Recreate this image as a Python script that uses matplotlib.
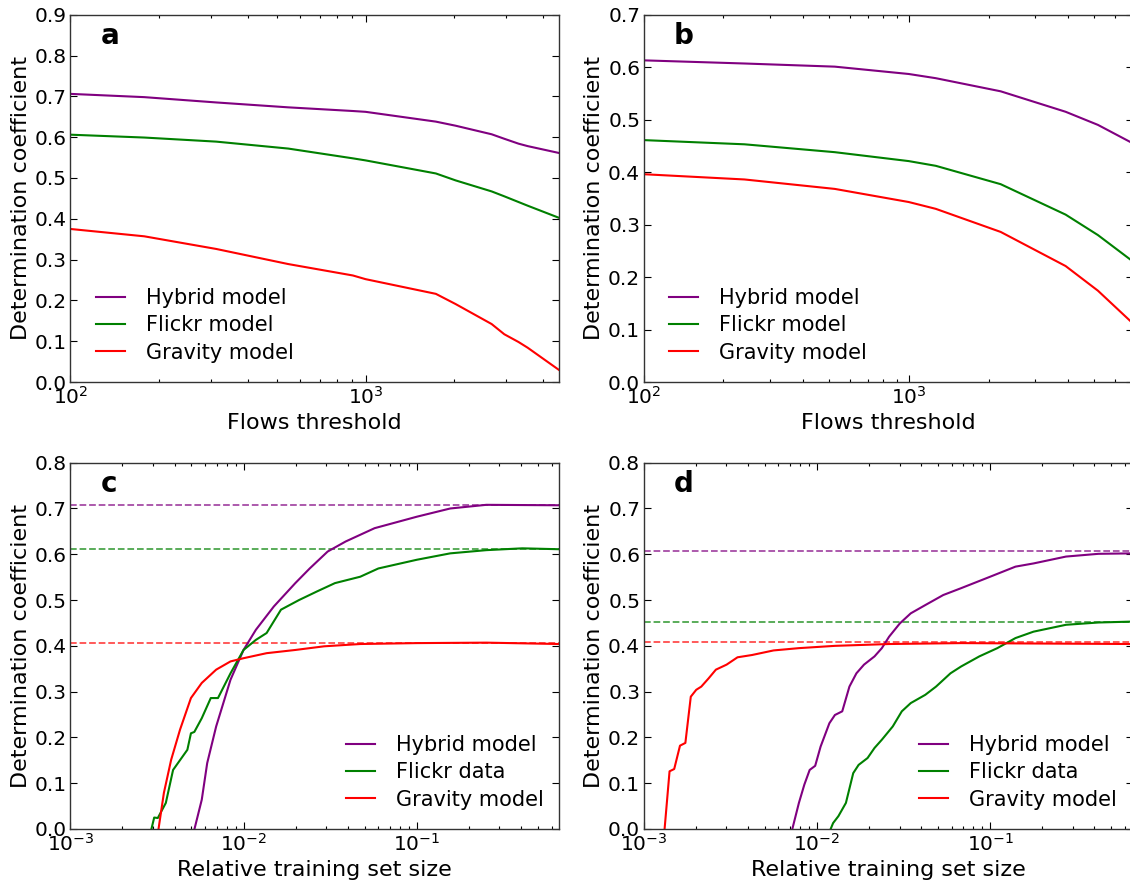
#!/usr/bin/env python3
"""Determination coefficient vs flows threshold / training set size (4 panels)."""
import numpy as np
import matplotlib
matplotlib.use('Agg')
import matplotlib.pyplot as plt
from matplotlib.ticker import FormatStrFormatter, MultipleLocator

# Panel a: flows threshold
a_x = [100, 178, 312, 547, 906, 1000, 1730, 2018, 2673, 2950, 3296, 3540, 4530]
a_hybrid = [0.706, 0.698, 0.685, 0.673, 0.664, 0.662, 0.638, 0.628, 0.607, 0.596, 0.584, 0.578, 0.561]
a_flickr = [0.606, 0.599, 0.589, 0.572, 0.548, 0.543, 0.511, 0.494, 0.467, 0.455, 0.441, 0.432, 0.402]
a_gravity = [0.375, 0.357, 0.326, 0.289, 0.261, 0.252, 0.216, 0.191, 0.142, 0.117, 0.098, 0.084, 0.029]

# Panel b: flows threshold
b_x = [100, 240, 526, 1000, 1265, 2223, 3908, 5175, 7000]
b_hybrid = [0.613, 0.607, 0.601, 0.587, 0.579, 0.554, 0.515, 0.490, 0.455]
b_flickr = [0.461, 0.453, 0.438, 0.421, 0.412, 0.377, 0.319, 0.280, 0.230]
b_gravity = [0.396, 0.386, 0.368, 0.343, 0.330, 0.286, 0.221, 0.174, 0.112]

# Panel c: relative training set size
c_ref = [0.707, 0.612, 0.407]  # hybrid, flickr, gravity (full-set values)
c_hyb_x = [0.00521, 0.00574, 0.00617, 0.00695, 0.00841, 0.0100, 0.01178, 0.01496, 0.0199,
           0.0241, 0.0306, 0.0389, 0.0571, 0.100, 0.156, 0.252, 0.665]
c_hyb_y = [0.0, 0.064, 0.144, 0.224, 0.326, 0.391, 0.435, 0.486, 0.537,
           0.569, 0.606, 0.628, 0.657, 0.682, 0.700, 0.708, 0.707]
c_fli_x = [0.00294, 0.00305, 0.0032, 0.00356, 0.00392, 0.00474, 0.00497, 0.00520, 0.00574,
           0.00647, 0.00712, 0.00841, 0.0100, 0.01178, 0.01359, 0.01645, 0.0209, 0.0266,
           0.0337, 0.0472, 0.060, 0.100, 0.156, 0.252, 0.407, 0.665]
c_fli_y = [0.0, 0.025, 0.024, 0.057, 0.129, 0.173, 0.209, 0.212, 0.242,
           0.286, 0.286, 0.340, 0.391, 0.413, 0.428, 0.479, 0.500, 0.519,
           0.537, 0.551, 0.569, 0.588, 0.602, 0.609, 0.613, 0.611]
c_gra_x = [0.00323, 0.00347, 0.00382, 0.0043, 0.00497, 0.00574, 0.00695, 0.00841, 0.0100,
           0.01359, 0.0199, 0.0292, 0.0472, 0.100, 0.252, 0.665]
c_gra_y = [0.0, 0.079, 0.151, 0.217, 0.286, 0.319, 0.348, 0.366, 0.373,
           0.384, 0.391, 0.399, 0.404, 0.406, 0.407, 0.404]

# Panel d: relative training set size
d_ref = [0.607, 0.453, 0.408]
d_hyb_x = [0.00721, 0.00787, 0.00846, 0.00908, 0.00977, 0.0105, 0.0118, 0.0127, 0.0140,
           0.0154, 0.0169, 0.0187, 0.0215, 0.0237, 0.0261, 0.0301, 0.0348, 0.0422, 0.0536,
           0.068, 0.100, 0.140, 0.178, 0.274, 0.422, 0.665]
d_hyb_y = [0.0, 0.057, 0.097, 0.129, 0.138, 0.180, 0.231, 0.249, 0.257,
           0.311, 0.340, 0.359, 0.377, 0.395, 0.420, 0.449, 0.471, 0.489, 0.511,
           0.526, 0.551, 0.573, 0.580, 0.595, 0.601, 0.602]
d_fli_x = [0.0120, 0.0124, 0.0133, 0.0147, 0.0162, 0.0174, 0.0196, 0.0215, 0.0237, 0.0274,
           0.0309, 0.0348, 0.0422, 0.0487, 0.059, 0.068, 0.0866, 0.110, 0.140, 0.178,
           0.274, 0.422, 0.665]
d_fli_y = [0.0, 0.013, 0.028, 0.057, 0.122, 0.140, 0.155, 0.177, 0.195, 0.224,
           0.257, 0.275, 0.293, 0.311, 0.340, 0.355, 0.377, 0.395, 0.417, 0.431,
           0.446, 0.451, 0.453]
d_gra_x = [0.00132, 0.00141, 0.00150, 0.00162, 0.00174, 0.00187, 0.00201, 0.00215, 0.00237,
           0.00261, 0.00301, 0.00348, 0.00422, 0.00562, 0.00787, 0.0127, 0.0261, 0.068, 0.665]
d_gra_y = [0.0, 0.126, 0.131, 0.182, 0.188, 0.289, 0.304, 0.311, 0.329,
           0.348, 0.359, 0.375, 0.380, 0.390, 0.395, 0.400, 0.404, 0.406, 0.404]

COL = {'hyb': 'purple', 'fli': 'green', 'gra': 'red'}
LW = 1.5

plt.rcParams['font.family'] = 'DejaVu Sans'
plt.rcParams['mathtext.default'] = 'regular'

fig = plt.figure(figsize=(11.3, 8.84), dpi=100)
W, H = 1130.0, 884.0
aw = 489.0 / W
ah_top = 367.3 / H
ah_bot = 366.3 / H
ax_a = fig.add_axes([70.3 / W, 1 - 382.0 / H, aw, ah_top])
ax_b = fig.add_axes([643.7 / W, 1 - 382.0 / H, aw, ah_top])
ax_c = fig.add_axes([70.3 / W, 1 - 829.0 / H, aw, ah_bot])
ax_d = fig.add_axes([643.7 / W, 1 - 829.0 / H, aw, ah_bot])


def style(ax, letter, xlabel, ymax):
    ax.set_xscale('log')
    ax.set_ylim(0, ymax)
    ax.yaxis.set_major_locator(MultipleLocator(0.1))
    ax.yaxis.set_major_formatter(FormatStrFormatter('%.1f'))
    ax.tick_params(which='both', direction='in', top=True, right=True, labelsize=14.5, pad=2.5)
    ax.tick_params(which='major', length=5, width=0.8)
    ax.tick_params(which='minor', length=2.5, width=0.8)
    for s in ax.spines.values():
        s.set_color('#333333')
        s.set_linewidth(1.0)
    ax.set_xlabel(xlabel, fontsize=16, labelpad=4)
    ax.set_ylabel('Determination coefficient', fontsize=16, labelpad=3)
    ax.text(0.062, 0.92, letter, transform=ax.transAxes, fontsize=20,
            fontweight='bold', va='baseline')


# a
ax_a.plot(a_x, a_hybrid, color=COL['hyb'], lw=LW, label='Hybrid model')
ax_a.plot(a_x, a_flickr, color=COL['fli'], lw=LW, label='Flickr model')
ax_a.plot(a_x, a_gravity, color=COL['gra'], lw=LW, label='Gravity model')
ax_a.set_xlim(100, 4530)
style(ax_a, 'a', 'Flows threshold', 0.9)

# b
ax_b.plot(b_x, b_hybrid, color=COL['hyb'], lw=LW, label='Hybrid model')
ax_b.plot(b_x, b_flickr, color=COL['fli'], lw=LW, label='Flickr model')
ax_b.plot(b_x, b_gravity, color=COL['gra'], lw=LW, label='Gravity model')
ax_b.set_xlim(100, 7000)
style(ax_b, 'b', 'Flows threshold', 0.7)

# c
for ref, key in zip(c_ref, ['hyb', 'fli', 'gra']):
    ax_c.axhline(ref, color=COL[key], ls='--', lw=1.3, alpha=0.7)
ax_c.plot(c_hyb_x, c_hyb_y, color=COL['hyb'], lw=LW, label='Hybrid model')
ax_c.plot(c_fli_x, c_fli_y, color=COL['fli'], lw=LW, label='Flickr data')
ax_c.plot(c_gra_x, c_gra_y, color=COL['gra'], lw=LW, label='Gravity model')
ax_c.set_xlim(1e-3, 0.665)
style(ax_c, 'c', 'Relative training set size', 0.8)

# d
for ref, key in zip(d_ref, ['hyb', 'fli', 'gra']):
    ax_d.axhline(ref, color=COL[key], ls='--', lw=1.3, alpha=0.7)
ax_d.plot(d_hyb_x, d_hyb_y, color=COL['hyb'], lw=LW, label='Hybrid model')
ax_d.plot(d_fli_x, d_fli_y, color=COL['fli'], lw=LW, label='Flickr data')
ax_d.plot(d_gra_x, d_gra_y, color=COL['gra'], lw=LW, label='Gravity model')
ax_d.set_xlim(1e-3, 0.665)
style(ax_d, 'd', 'Relative training set size', 0.8)

leg_kw = dict(frameon=False, fontsize=15, handlelength=1.4, handletextpad=1.0,
              labelspacing=0.35, borderaxespad=0.0)
for ax in (ax_a, ax_b):
    ax.legend(loc='lower left', bbox_to_anchor=(0.035, 0.03), **leg_kw)
for ax in (ax_c, ax_d):
    ax.legend(loc='lower right', bbox_to_anchor=(0.985, 0.03), **leg_kw)

fig.savefig('out.png', dpi=100)
